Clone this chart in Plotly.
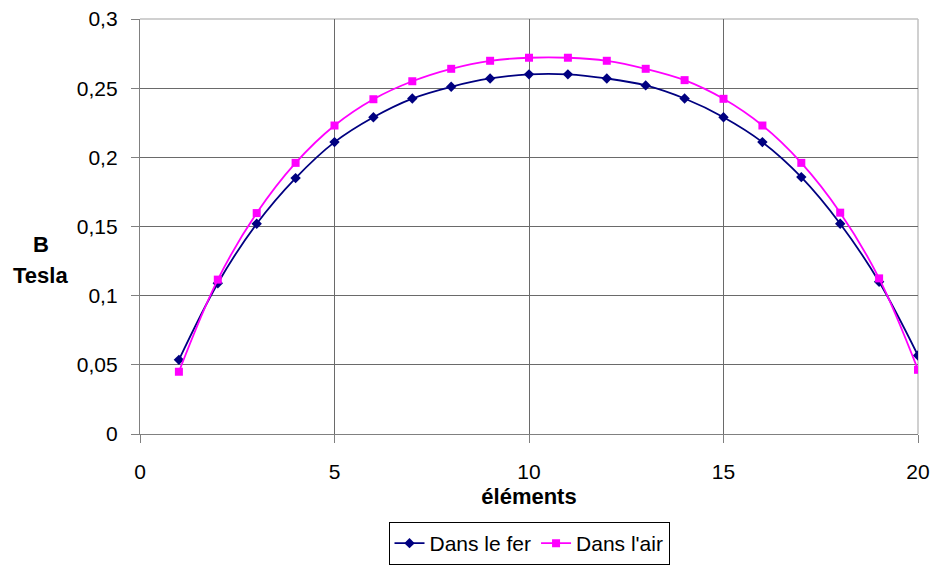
import plotly.graph_objects as go

elements = list(range(1, 21))
dans_le_fer = [0.0536, 0.109, 0.152, 0.185, 0.211, 0.229, 0.2425, 0.251, 0.257, 0.260,
               0.260, 0.257, 0.252, 0.2425, 0.229, 0.211, 0.1857, 0.152, 0.110, 0.0567]
dans_l_air = [0.045, 0.1116, 0.1597, 0.196, 0.223, 0.242, 0.255, 0.264, 0.2698, 0.272,
              0.272, 0.2698, 0.264, 0.2558, 0.2423, 0.223, 0.196, 0.160, 0.1125, 0.0464]

FONT = "Liberation Sans, Arial, sans-serif"
W, H = 933, 565
ML, MR, MT, MB = 140, 15, 19, 131
PW, PH = W - ML - MR, H - MT - MB

fig = go.Figure()
fig.add_trace(go.Scatter(
    x=elements, y=dans_le_fer, name="Dans le fer", mode="lines+markers",
    line=dict(color="#000080", width=1.8, shape="spline"),
    marker=dict(symbol="diamond", size=8, color="#000080")))
fig.add_trace(go.Scatter(
    x=elements, y=dans_l_air, name="Dans l'air", mode="lines+markers",
    line=dict(color="#FF00FF", width=1.8, shape="spline"),
    marker=dict(symbol="square", size=8, color="#FF00FF")))


def px_to_paper(px, py):
    return (px - ML) / PW, (H - MB - py) / PH


bx, by = px_to_paper(40.5, 245)
tx, ty = px_to_paper(40, 275)

fig.update_layout(
    width=W, height=H,
    margin=dict(l=ML, r=MR, t=MT, b=MB, autoexpand=False),
    paper_bgcolor="white", plot_bgcolor="white",
    separators=", ",
    font=dict(family=FONT, size=21, color="#000000"),
    showlegend=True,
    legend=dict(orientation="h", x=0.5, xanchor="center", y=-0.212, yanchor="top",
                bordercolor="#000000", borderwidth=1, font=dict(size=21),
                itemwidth=30, tracegroupgap=0),
    annotations=[
        dict(text="<b>B</b>", x=bx, y=by, xref="paper", yref="paper",
             xanchor="center", yanchor="middle",
             showarrow=False, font=dict(size=22)),
        dict(text="<b>Tesla</b>", x=tx, y=ty, xref="paper", yref="paper",
             xanchor="center", yanchor="middle",
             showarrow=False, font=dict(size=22)),
    ],
    shapes=[
        dict(type="line", xref="paper", yref="paper", x0=0, x1=1, y0=1, y1=1,
             line=dict(color="#c0c0c0", width=1.5), layer="between"),
        dict(type="line", xref="paper", yref="paper", x0=1, x1=1, y0=0, y1=1,
             line=dict(color="#c0c0c0", width=1.5), layer="between"),
    ],
)

fig.update_xaxes(range=[0, 20], dtick=5, tick0=0, showgrid=True, gridcolor="#6a6a6a",
                 gridwidth=1.3, showline=True, linecolor="#808080", linewidth=1.3,
                 mirror=False, ticks="outside", ticklen=8, tickcolor="#808080",
                 zeroline=False, automargin=False, ticklabelstandoff=11,
                 title=dict(text="<b>éléments</b>", standoff=6, font=dict(size=22)))
fig.update_yaxes(range=[0, 0.3], dtick=0.05, tick0=0, showgrid=True, gridcolor="#6a6a6a",
                 gridwidth=1.3, showline=True, linecolor="#808080", linewidth=1.3,
                 mirror=False, ticks="outside", ticklen=8, tickcolor="#808080",
                 zeroline=False, automargin=False, ticklabelstandoff=9)

fig.write_html("out.html", config={"displayModeBar": False},
               post_script="document.body.style.margin='0';document.body.style.overflow='hidden';")
